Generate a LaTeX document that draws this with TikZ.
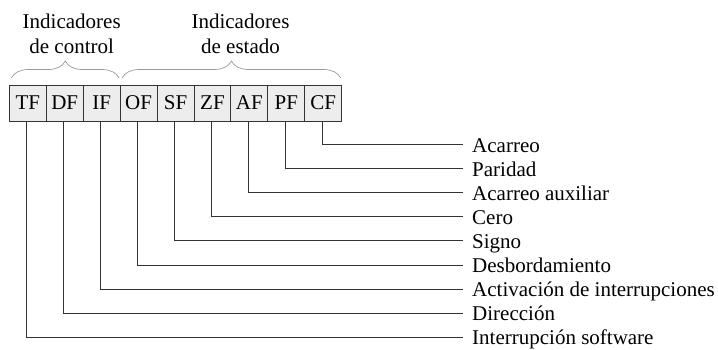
\documentclass[tikz,border=0pt]{standalone}
\usepackage{fontspec}
\setmainfont{Liberation Serif}
\usetikzlibrary{decorations.pathreplacing}
\definecolor{flagfill}{gray}{0.93}
\definecolor{wire}{gray}{0.2}
\begin{document}
\begin{tikzpicture}[x=1pt,y=-1pt,
  every node/.style={font=\fontsize{21}{25}\selectfont},
  flagbox/.style={draw=wire,fill=flagfill,line width=0.9pt,minimum width=36.93pt,minimum height=36pt,inner sep=0pt,outer sep=0pt},
  flagdesc/.style={anchor=west,inner xsep=8.7pt,inner ysep=0pt,text height=16pt,text depth=1pt},
  groupbrace/.style={draw=gray!80,line width=0.7pt,decorate,decoration={brace,amplitude=17pt}}]
\useasboundingbox (0,0) rectangle (718,349);
% register cells
\foreach \flag [count=\i from 0] in {TF,DF,IF,OF,SF,ZF,AF,PF,CF}
  \node[flagbox] (\flag) at (27.8+36.93*\i,103) {\flag};
% group headings
\draw[groupbrace] ([xshift=2pt,yshift=7pt]TF.north west) -- ([xshift=-1pt,yshift=7pt]IF.north east);
\draw[groupbrace] ([xshift=2pt,yshift=7pt]OF.north west) -- ([xshift=-1pt,yshift=7pt]CF.north east);
\node[align=center,inner sep=0pt] (ctrl) at (71.7,33.5) {Indicadores\\de control};
\node[align=center,inner sep=0pt] (state) at (240.5,33.5) {Indicadores\\de estado};
% descriptions
\foreach \flag/\desc [count=\i from 0] in {CF/Acarreo,PF/Paridad,AF/Acarreo auxiliar,ZF/Cero,SF/Signo,OF/Desbordamiento,IF/Activación de interrupciones,DF/Dirección,TF/Interrupción software}{
  \node[flagdesc] (d-\flag) at (463.3,144.5+24.1*\i) {\desc};
  \draw[wire,line width=0.9pt] ([xshift=-1pt]\flag.south) |- (d-\flag.west);
}
\end{tikzpicture}
\end{document}
